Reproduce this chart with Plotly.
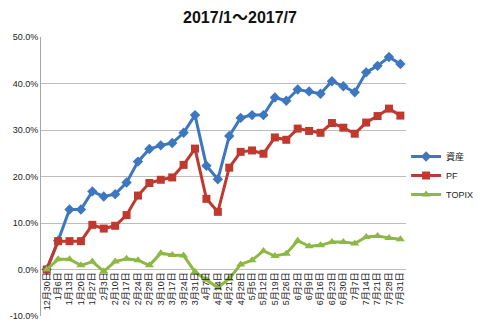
import plotly.graph_objects as go

# Weekly dates (category axis)
dates = ["12月30日", "1月6日", "1月13日", "1月20日", "1月27日", "2月3日", "2月10日",
         "2月17日", "2月24日", "2月28日", "3月10日", "3月17日", "3月24日", "3月31日",
         "4月7日", "4月14日", "4月21日", "4月28日", "5月5日", "5月12日", "5月19日",
         "5月26日", "6月2日", "6月9日", "6月16日", "6月23日", "6月30日", "7月7日",
         "7月14日", "7月21日", "7月28日", "7月31日"]

# Cumulative returns in percent
assets = [0.0, 6.2, 12.9, 12.9, 16.8, 15.7, 16.2, 18.7, 23.2, 25.9, 26.7, 27.2, 29.4, 33.2,
          22.3, 19.4, 28.7, 32.6, 33.2, 33.2, 37.0, 36.3, 38.7, 38.3, 37.8, 40.5, 39.4,
          38.1, 42.4, 43.8, 45.7, 44.2]
pf = [0.0, 6.1, 6.1, 6.1, 9.6, 8.8, 9.4, 11.7, 15.9, 18.6, 19.3, 19.8, 22.5, 26.0,
      15.2, 12.4, 21.9, 25.3, 25.6, 24.9, 28.4, 27.9, 30.3, 29.8, 29.4, 31.5, 30.5,
      29.2, 31.6, 33.0, 34.6, 33.1]
topix = [0.0, 2.2, 2.2, 0.9, 1.7, -0.4, 1.7, 2.3, 2.0, 0.9, 3.5, 3.1, 3.0, -0.5,
         -2.2, -3.9, -2.0, 1.1, 2.0, 4.0, 2.9, 3.4, 6.2, 5.0, 5.2, 5.9, 5.9,
         5.6, 7.0, 7.2, 6.8, 6.5]

y_ticks = [-10, 0, 10, 20, 30, 40, 50]
y_labels = [f"{v:.1f}%" for v in y_ticks]

FONT = "Liberation Sans, Noto Sans CJK JP, sans-serif"

series = [
    ("資産", assets, "#3D77BF", "diamond", 8),
    ("PF", pf, "#C0392F", "square", 8),
    ("TOPIX", topix, "#8CB843", "triangle-up", 8),
]

fig = go.Figure()
for name, vals, color, symbol, size in series:
    fig.add_trace(go.Scatter(
        x=dates, y=vals, name=name, mode="lines+markers",
        line=dict(color=color, width=3),
        marker=dict(symbol=symbol, size=size, color=color),
    ))

y_min, y_max = -10, 50
fig.update_layout(
    width=480, height=322,
    margin=dict(l=41, r=64, t=37, b=6),
    paper_bgcolor="white", plot_bgcolor="white",
    font=dict(family=FONT, size=9, color="#222222"),
    title=dict(text="<b>2017/1～2017/7</b>", x=0.5, xanchor="center",
               y=0.945, yanchor="middle",
               font=dict(family=FONT, size=16, color="#111111")),
    showlegend=True,
    legend=dict(xref="container", yref="container", x=0.846, y=0.559,
                xanchor="left", yanchor="top",
                font=dict(family=FONT, size=9, color="#222222"),
                bgcolor="rgba(0,0,0,0)", tracegroupgap=0, itemwidth=30),
    xaxis=dict(
        type="category", range=[-0.5, len(dates) - 0.5],
        anchor="free", position=(0 - y_min) / (y_max - y_min),
        tickangle=-90, showgrid=False, showline=False, ticks="",
        tickfont=dict(family=FONT, size=9, color="#222222"),
        automargin=False,
    ),
    yaxis=dict(
        range=[y_min, y_max], tickmode="array", tickvals=y_ticks, ticktext=y_labels,
        showgrid=True, gridcolor="#BDBDBD", gridwidth=1,
        zeroline=True, zerolinecolor="#BDBDBD", zerolinewidth=1,
        showline=True, linecolor="#A6A6A6", linewidth=1,
        ticks="", automargin=False,
        tickfont=dict(family=FONT, size=9, color="#222222"),
    ),
)

fig.write_html("out.html")
